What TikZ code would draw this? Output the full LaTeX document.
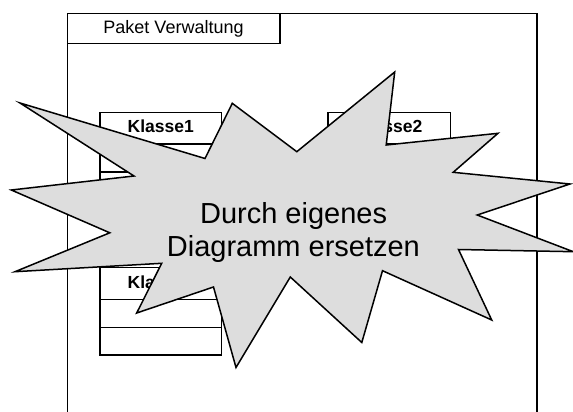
\documentclass[tikz,border=0pt]{standalone}
\usepackage{fontspec}
\setmainfont{Liberation Sans}
\definecolor{stargray}{HTML}{DDDDDD}
\tikzset{
  frameline/.style={line width=1.3pt, draw=black},
  classbox/.style={line width=1.2pt, draw=black, fill=white},
  starshape/.style={line width=1.5pt, draw=black, fill=stargray, line join=miter},
  classlabel/.style={anchor=base, inner sep=0pt, font=\fontsize{17.5}{20}\selectfont\bfseries},
  biglabel/.style={anchor=base, inner sep=0pt, font=\fontsize{29}{33}\selectfont},
}
\begin{document}
\begin{tikzpicture}[x=1pt,y=-1pt]
\useasboundingbox (0,0) rectangle (573,412);
\clip (0,0) rectangle (573,412);
% package frame
\draw[frameline] (67.5,420) -- (67.5,13.5) -- (537,13.5) -- (537,420);
\draw[frameline, fill=white] (67.5,13.5) rectangle (280,43.5);
\node[anchor=base, inner sep=0pt, font=\fontsize{18}{21}\selectfont] (pkg) at (173.5,33.3) {Paket Verwaltung};
% classes
\draw[classbox] (100,112.3) rectangle (221.7,199.5);
\draw[line width=1.2pt] (100,144) -- (221.7,144);
\draw[line width=1.2pt] (100,172) -- (221.7,172);
\node[classlabel] (k1) at (160.8,132.7) {Klasse1};
\draw[classbox] (328,112.3) rectangle (450.3,199.5);
\draw[line width=1.2pt] (328,144) -- (450.3,144);
\draw[line width=1.2pt] (328,172) -- (450.3,172);
\node[classlabel] (k2) at (389.2,132.7) {Klasse2};
\draw[classbox] (100,267.7) rectangle (221.7,355);
\draw[line width=1.2pt] (100,299.3) -- (221.7,299.3);
\draw[line width=1.2pt] (100,327.3) -- (221.7,327.3);
\node[classlabel] (k3) at (160.8,288.3) {Klasse3};
% star
\draw[starshape] (394.7,72) -- (386.2,145) -- (498,133.3) -- (453.2,172.3)
  -- (570,184) -- (477.2,215) -- (573.3,251.7) -- (458.5,249.5)
  -- (491.7,320) -- (382.5,270.7) -- (361.8,342.5) -- (290.3,277)
  -- (236,367.5) -- (213.5,287) -- (136.7,313) -- (161.7,263.3)
  -- (15,271.7) -- (109.8,232.8) -- (11.3,190) -- (134,176)
  -- (20,103) -- (205,158.5) -- (232.3,103.3) -- (296.8,151.7) -- cycle;
\node[biglabel] (t1) at (293.6,223.3) {Durch eigenes};
\node[biglabel] (t2) at (293.4,256.7) {Diagramm ersetzen};
\end{tikzpicture}
\end{document}
